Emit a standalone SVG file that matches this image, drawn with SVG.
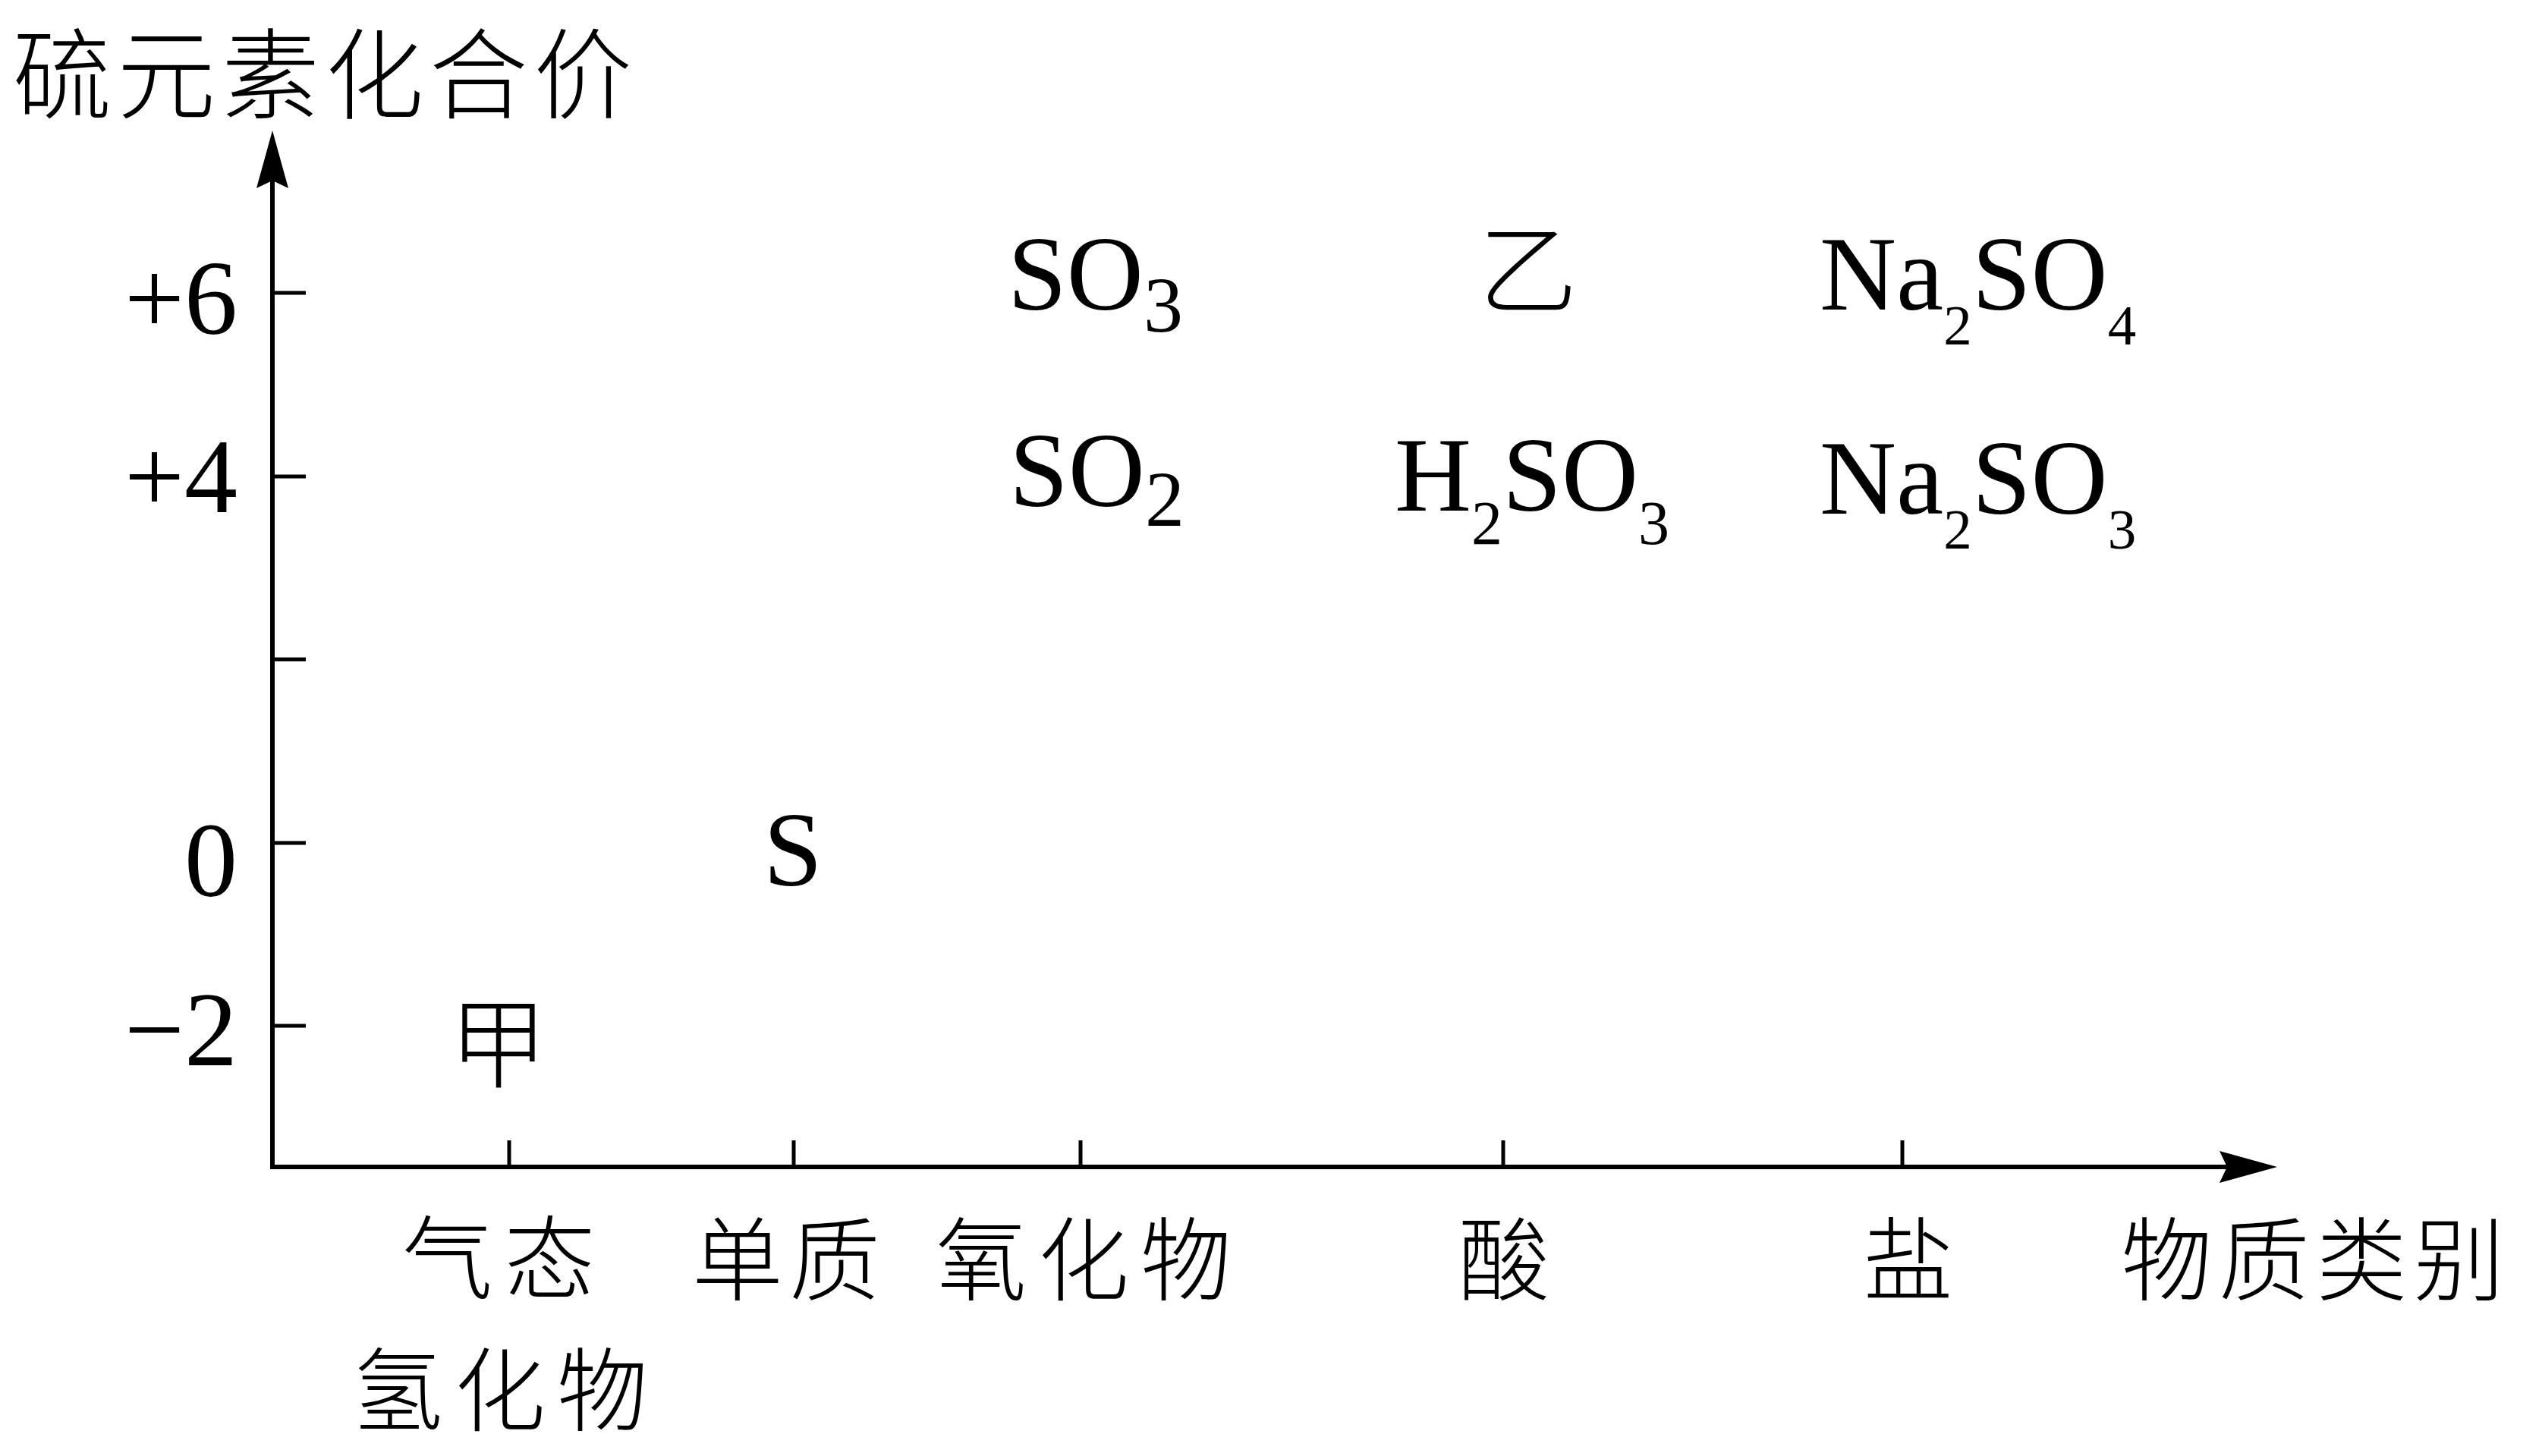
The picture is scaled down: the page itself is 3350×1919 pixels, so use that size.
<svg xmlns="http://www.w3.org/2000/svg" width="3350" height="1919" viewBox="0 0 3350 1919">
<style>
.cjk{font-family:"Noto Sans CJK SC","Noto Sans CJK TC",sans-serif;font-size:130px;font-weight:300;fill:#000}
.cat{font-size:120px}
.num{font-family:"Liberation Serif","Times New Roman",serif;font-size:140px;fill:#000}
.axis{fill:none;stroke:#000;stroke-width:6;stroke-linejoin:miter}
.tick{stroke:#000;stroke-width:5;fill:none}
</style>
<defs>
<marker id="arrow" markerUnits="userSpaceOnUse" viewBox="0 -22 78 44" refX="10" refY="0" markerWidth="78" markerHeight="44" orient="auto-start-reverse">
<path d="M0,-21 L76,0 L0,21 L10,0 Z" fill="#000"/>
</marker>
</defs>
<rect width="3350" height="1919" fill="#fff"/>

<g id="connectors">
<path id="axes" class="axis" d="M359,238 L359,1538 L2935,1538" marker-start="url(#arrow)" marker-end="url(#arrow)"/>
<g id="y-ticks">
<line class="tick" x1="359" y1="386" x2="403" y2="386"/>
<line class="tick" x1="359" y1="628" x2="403" y2="628"/>
<line class="tick" x1="359" y1="869" x2="403" y2="869"/>
<line class="tick" x1="359" y1="1111" x2="403" y2="1111"/>
<line class="tick" x1="359" y1="1352" x2="403" y2="1352"/>
</g>
<g id="x-ticks">
<line class="tick" x1="671" y1="1503" x2="671" y2="1538"/>
<line class="tick" x1="1046" y1="1503" x2="1046" y2="1538"/>
<line class="tick" x1="1424" y1="1503" x2="1424" y2="1538"/>
<line class="tick" x1="1981" y1="1503" x2="1981" y2="1538"/>
<line class="tick" x1="2507" y1="1503" x2="2507" y2="1538"/>
</g>
</g>

<g id="y-axis-title"><text class="cjk" x="17" y="146" font-size="118" textLength="816" lengthAdjust="spacing">硫元素化合价</text></g>
<g id="x-axis-title"><text class="cjk cat" x="3048" y="1705" text-anchor="middle" textLength="505" lengthAdjust="spacing">物质类别</text></g>

<g id="y-labels">
<text class="num" x="313" y="440" text-anchor="end">+6</text>
<text class="num" x="313" y="675" text-anchor="end">+4</text>
<text class="num" x="313" y="1181" text-anchor="end">0</text>
<text class="num" x="313" y="1404" text-anchor="end">−2</text>
</g>

<g id="category-gas-hydride">
<text class="cjk cat" x="657" y="1703" text-anchor="middle" textLength="255" lengthAdjust="spacing">气态</text>
<text class="cjk cat" x="659" y="1877" text-anchor="middle" textLength="390" lengthAdjust="spacing">氢化物</text>
</g>
<g id="category-element"><text class="cjk cat" x="1036" y="1705" text-anchor="middle" textLength="248" lengthAdjust="spacing">单质</text></g>
<g id="category-oxide"><text class="cjk cat" x="1428" y="1705" text-anchor="middle" textLength="390" lengthAdjust="spacing">氧化物</text></g>
<g id="category-acid"><text class="cjk cat" x="1982" y="1705" text-anchor="middle">酸</text></g>
<g id="category-salt"><text class="cjk cat" x="2515" y="1705" text-anchor="middle">盐</text></g>

<g id="node-jia"><text class="cjk" x="657" y="1423" text-anchor="middle">甲</text></g>
<g id="node-S"><text class="num" x="1006" y="1167">S</text></g>
<g id="node-SO2"><text class="num" x="1330" y="667">SO<tspan font-size="104" dy="26">2</tspan></text></g>
<g id="node-SO3"><text class="num" x="1328" y="408">SO<tspan font-size="104" dy="29">3</tspan></text></g>
<g id="node-yi"><text class="cjk" x="2014" y="403" text-anchor="middle">乙</text></g>
<g id="node-H2SO3"><text class="num" x="1838" y="673">H<tspan font-size="82" dy="44">2</tspan><tspan dy="-44">SO</tspan><tspan font-size="82" dy="44">3</tspan></text></g>
<g id="node-Na2SO4"><text class="num" x="2398" y="408">Na<tspan font-size="75" dy="46">2</tspan><tspan dy="-46">SO</tspan><tspan font-size="75" dy="46">4</tspan></text></g>
<g id="node-Na2SO3"><text class="num" x="2398" y="677">Na<tspan font-size="75" dy="46">2</tspan><tspan dy="-46">SO</tspan><tspan font-size="75" dy="46">3</tspan></text></g>
</svg>
